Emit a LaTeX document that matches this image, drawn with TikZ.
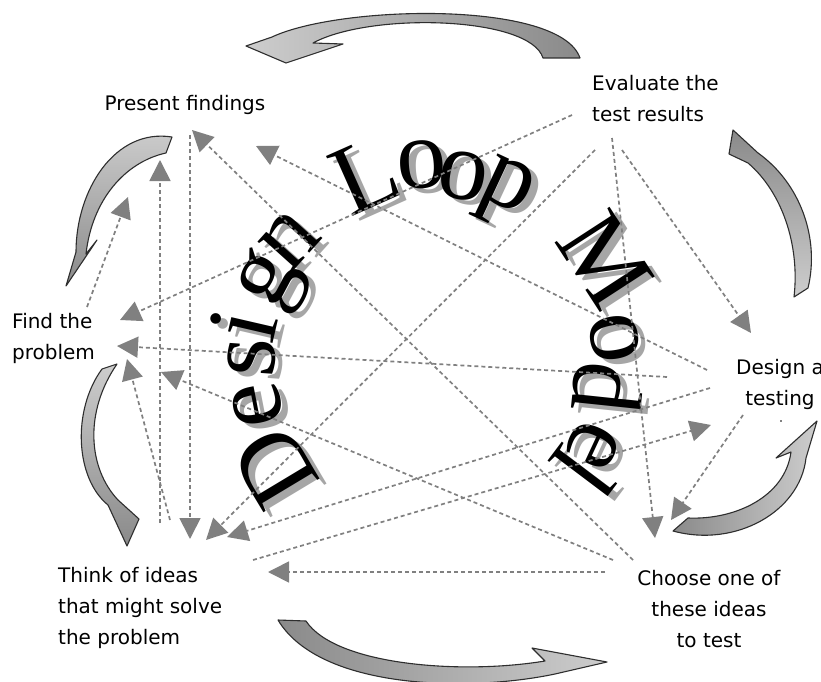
\documentclass[tikz,border=0pt]{standalone}
\usepackage{fontspec}
\setmainfont{Liberation Serif}
\newfontfamily\stepfont{DejaVu Sans}
\usetikzlibrary{arrows.meta}
\definecolor{linkgray}{HTML}{808080}
\definecolor{wshadow}{HTML}{A6A6A6}
\definecolor{headgray}{HTML}{CDCDCD}
\definecolor{tailgray}{HTML}{8A8A8A}
\definecolor{rimgray}{HTML}{2E2E2E}

\begin{document}
\begin{tikzpicture}[x=1bp,y=-1bp,
  steplabel/.style={font=\stepfont\fontsize{20bp}{31bp}\selectfont, inner sep=0pt, text=black},
  link/.style={draw=linkgray, line width=1.7bp, dash pattern=on 4bp off 3bp,
               -{Triangle[length=21bp,width=21bp]}},
  cyclearrow/.style={draw=rimgray, line width=1.1bp, line join=round},
  wart/.style={font=\fontsize{100bp}{100bp}\selectfont, inner sep=0pt},
]
\fill[white] (0,0) rectangle (821,682);
\useasboundingbox (0,0) rectangle (821,682);

% ---- arched title: each letter placed and turned along the arch, shadow first
\foreach \px/\py/\rot/\ch [count=\k] in {
  275/467/121/D, 258/405/101/e, 252/357/86/s, 243/325/77/i, 273/282/62/g, 290/240/48/n,
  365/175/24/L, 422/165/4/o, 463/176/-10/o, 505/193/-25/p,
  605/260/-57/M, 615/338/-80/o, 608/388/-96/d, 593/445/-115/e, 583/472/-127/l}
  \node[wart, text=wshadow, rotate=\rot] (shadow\k) at ({\px+7},{\py+5}) {\ch};
\foreach \px/\py/\rot/\ch [count=\k] in {
  275/467/121/D, 258/405/101/e, 252/357/86/s, 243/325/77/i, 273/282/62/g, 290/240/48/n,
  365/175/24/L, 422/165/4/o, 463/176/-10/o, 505/193/-25/p,
  605/260/-57/M, 615/338/-80/o, 608/388/-96/d, 593/445/-115/e, 583/472/-127/l}
  \node[wart, text=black, rotate=\rot] (letter\k) at (\px,\py) {\ch};

% ---- step labels
\node[steplabel, anchor=center] (present) at (185,105) {Present findings};
\node[steplabel, anchor=west, align=left] (evaluate) at (592,99) {Evaluate the\\test results};
\node[steplabel, anchor=west, align=left] (find) at (12,338) {Find the\\problem};
\node[steplabel, anchor=center, align=center] (design) at (780,384) {Design a\\testing};
\node[steplabel, anchor=west, align=left] (think) at (58,608) {Think of ideas\\that might solve\\the problem};
\node[steplabel, anchor=center, align=center] (choose) at (709,609) {Choose one of\\these ideas\\to test};
\fill[black] (781,421) circle (0.9bp);

% ---- end points of the dashed links
\coordinate (cp1) at (633,560); \coordinate (cp2) at (192,130);
\coordinate (dp1) at (707,370); \coordinate (dp2) at (256,146);
\coordinate (ef1) at (572,115); \coordinate (ef2) at (120,320);
\coordinate (df1) at (667,377); \coordinate (df2) at (117,346);
\coordinate (fp1) at (87,307);  \coordinate (fp2) at (128,197);
\coordinate (tp1) at (160,523); \coordinate (tp2) at (160,160);
\coordinate (pt1) at (190,135); \coordinate (pt2) at (190,539);
\coordinate (et1) at (595,150); \coordinate (et2) at (206,540);
\coordinate (tf1) at (170,520); \coordinate (tf2) at (127,359);
\coordinate (dt1) at (710,388); \coordinate (dt2) at (227,537);
\coordinate (td1) at (253,560); \coordinate (td2) at (711,425);
\coordinate (ct1) at (605,572); \coordinate (ct2) at (268,572);
\coordinate (cf1) at (613,560); \coordinate (cf2) at (161,372);
\coordinate (ec1) at (612,138); \coordinate (ec2) at (655,538);
\coordinate (ed1) at (622,150); \coordinate (ed2) at (751,333);
\coordinate (dc1) at (743,415); \coordinate (dc2) at (671,520);

\foreach \a in {cp,dp,ef,df,fp,tp,pt,et,tf,dt,td,ct,cf,ec,ed,dc}
  \draw[link] (\a1) -- (\a2);

% ---- curved arrows of the cycle, lighter towards the head
% (with the y axis pointing down, "top color" lands at the lower edge)
% evaluate -> present
\draw[cyclearrow, left color=headgray, right color=tailgray]
  (580,58) .. controls (560,0) and (340,5) .. (272,37)
  -- (246,46) -- (286,63) -- (343,44) -- (313,43)
  .. controls (370,12) and (530,16) .. (543,58) -- cycle;
% present -> find
\draw[cyclearrow, top color=headgray, bottom color=tailgray]
  (172,137) .. controls (115,128) and (76,190) .. (76,252)
  -- (66,286) -- (97,240) -- (86,254)
  .. controls (92,200) and (125,162) .. (166,153) -- cycle;
% find -> think
\draw[cyclearrow, top color=headgray, bottom color=tailgray]
  (102,369) .. controls (72,410) and (75,478) .. (108,505)
  -- (127,546) -- (139,519) -- (118,500)
  .. controls (88,468) and (84,412) .. (117,364) -- cycle;
% think -> choose
\draw[cyclearrow, left color=tailgray, right color=headgray]
  (278,620) .. controls (320,690) and (470,692) .. (555,674)
  -- (607,662) -- (532,648) -- (545,661)
  .. controls (460,675) and (335,665) .. (306,621) -- cycle;
% choose -> design
\draw[cyclearrow, left color=tailgray, right color=headgray]
  (673,531) .. controls (735,548) and (800,512) .. (806,458)
  -- (817,421) -- (776,458) -- (791,452)
  .. controls (785,497) and (735,520) .. (688,518) -- cycle;
% design -> evaluate
\draw[cyclearrow, top color=tailgray, bottom color=headgray]
  (808,288) .. controls (820,238) and (800,183) .. (758,153)
  -- (733,130) -- (729,154) -- (748,163)
  .. controls (782,192) and (800,245) .. (794,297) -- cycle;
\end{tikzpicture}
\end{document}
